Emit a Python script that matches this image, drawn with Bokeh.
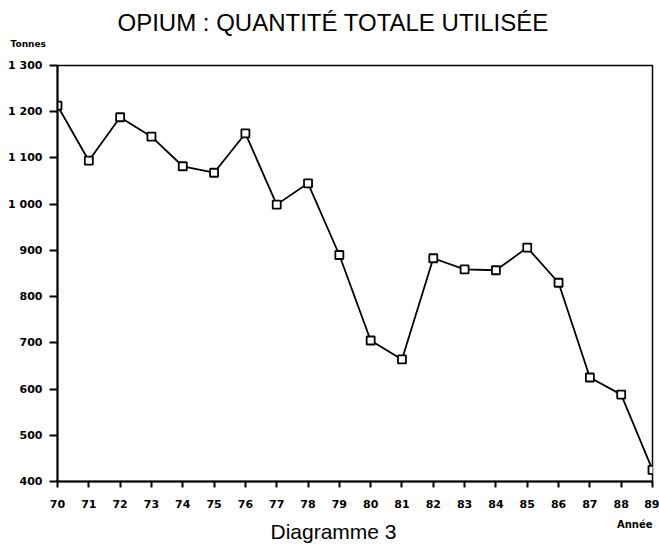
from bokeh.plotting import figure
from bokeh.models import Range1d, FixedTicker, Title
from bokeh.embed import file_html
from bokeh.resources import INLINE

years = list(range(70, 90))
tonnes = [1213, 1094, 1188, 1146, 1082, 1068, 1153, 999, 1045, 890,
          705, 664, 883, 859, 857, 906, 830, 625, 588, 425]
y_ticks = [400, 500, 600, 700, 800, 900, 1000, 1100, 1200, 1300]
y_tick_labels = ["400", "500", "600", "700", "800", "900", "1 000", "1 100", "1 200", "1 300"]
x_tick_labels = [str(y) for y in years]

title_text = "OPIUM : QUANTITÉ TOTALE UTILISÉE"
y_unit = "Tonnes"
x_unit = "Année"
caption = "Diagramme 3"

p = figure(width=659, height=552, output_backend="svg", toolbar_location=None,
           x_range=Range1d(70, 89), y_range=Range1d(400, 1300),
           min_border_left=57, min_border_right=7, min_border_top=65, min_border_bottom=71)
p.background_fill_color = "white"
p.border_fill_color = "white"
p.outline_line_color = "black"
p.outline_line_width = 1.5
p.xgrid.visible = False
p.ygrid.visible = False

tick_font = "DejaVu Sans"
p.xaxis.ticker = FixedTicker(ticks=years)
p.xaxis.major_label_overrides = {y: s for y, s in zip(years, x_tick_labels)}
p.yaxis.ticker = FixedTicker(ticks=y_ticks)
p.yaxis.major_label_overrides = {t: s for t, s in zip(y_ticks, y_tick_labels)}
for ax in (p.xaxis, p.yaxis):
    ax.axis_line_color = "black"
    ax.axis_line_width = 2
    ax.major_tick_line_color = "black"
    ax.major_tick_line_width = 2
    ax.major_tick_in = 0
    ax.minor_tick_line_color = None
    ax.major_label_text_font = tick_font
    ax.major_label_text_font_style = "bold"
    ax.major_label_text_font_size = "11px"
    ax.major_label_text_color = "black"
p.yaxis.major_tick_out = 8
p.yaxis.major_label_standoff = 7
p.xaxis.major_tick_out = 6
p.xaxis.major_label_standoff = 12

p.line(years, tonnes, line_color="black", line_width=1.8)
p.scatter(years, tonnes, marker="square", size=8, fill_color="white",
          line_color="black", line_width=1.8)

# above: first added is closest to the frame
p.add_layout(Title(text=y_unit, align="left", offset=-47, standoff=34,
                   text_font=tick_font, text_font_style="bold",
                   text_font_size="9px", text_color="black"), "above")
p.add_layout(Title(text=title_text, align="left", offset=60, standoff=-32,
                   text_font="Liberation Sans", text_font_style="normal",
                   text_font_size="24px", text_color="black"), "above")
# below: after the axis
p.add_layout(Title(text=x_unit, align="right", offset=0, standoff=12,
                   text_font=tick_font, text_font_style="bold",
                   text_font_size="10px", text_color="black"), "below")
p.add_layout(Title(text=caption, align="left", offset=213, standoff=-32,
                   vertical_align="top",
                   text_font="Liberation Sans", text_font_style="normal",
                   text_font_size="21px", text_color="black"), "below")

open("out.html", "w").write(file_html(p, INLINE))
